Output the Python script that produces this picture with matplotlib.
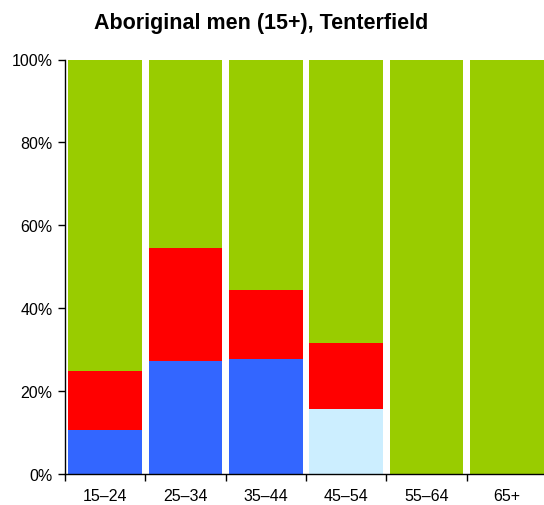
import matplotlib
matplotlib.use("Agg")
import matplotlib.pyplot as plt
import numpy as np

plt.rcParams['font.family'] = ['Liberation Sans', 'DejaVu Sans']

categories = ["15–24", "25–34", "35–44", "45–54", "55–64", "65+"]
blue = [10.7, 27.3, 27.7, 0, 0, 0]
light_blue = [0, 0, 0, 15.8, 0, 0]
red = [14.2, 27.2, 16.6, 15.7, 0, 0]
green = [75.1, 45.5, 55.7, 68.5, 100, 100]
yticks = [0, 20, 40, 60, 80, 100]
ytick_labels = ["0%", "20%", "40%", "60%", "80%", "100%"]

fig = plt.figure(figsize=(5.44, 5.06), dpi=100)
ax = fig.add_axes([65/544, 31/506, 482/544, 414.5/506])

x = np.arange(len(categories))
w = 0.92
series = [(blue, "#3366FF"), (light_blue, "#CCEEFF"), (red, "#FF0000"), (green, "#99CC00")]
bottom = np.zeros(len(categories))
for vals, col in series:
    v = np.array(vals, dtype=float)
    ax.bar(x, v, w, bottom=bottom, color=col, edgecolor='none', linewidth=0)
    bottom += v

ax.set_xlim(-0.5, len(categories) - 0.5)
ax.set_ylim(0, 100)
ax.set_yticks(yticks)
ax.set_yticklabels(ytick_labels, fontsize=11.5)
ax.set_xticks([i - 0.5 for i in range(len(categories))])
ax.set_xticklabels([])
ax.set_xticks(x, minor=True)
ax.set_xticklabels(categories, minor=True, fontsize=11.5)
ax.tick_params(axis='x', which='minor', length=0, pad=10)
ax.tick_params(axis='x', which='major', length=5, width=1)
ax.tick_params(axis='y', length=5, width=1, pad=4)
for s in ['top', 'right']:
    ax.spines[s].set_visible(False)
ax.spines['left'].set_linewidth(1)
ax.spines['bottom'].set_linewidth(1)

fig.text(261/544, 1 - 23/506, "Aboriginal men (15+), Tenterfield", ha='center', va='center',
         fontsize=15.5, fontweight='bold')

fig.savefig("out.png", dpi=100)
